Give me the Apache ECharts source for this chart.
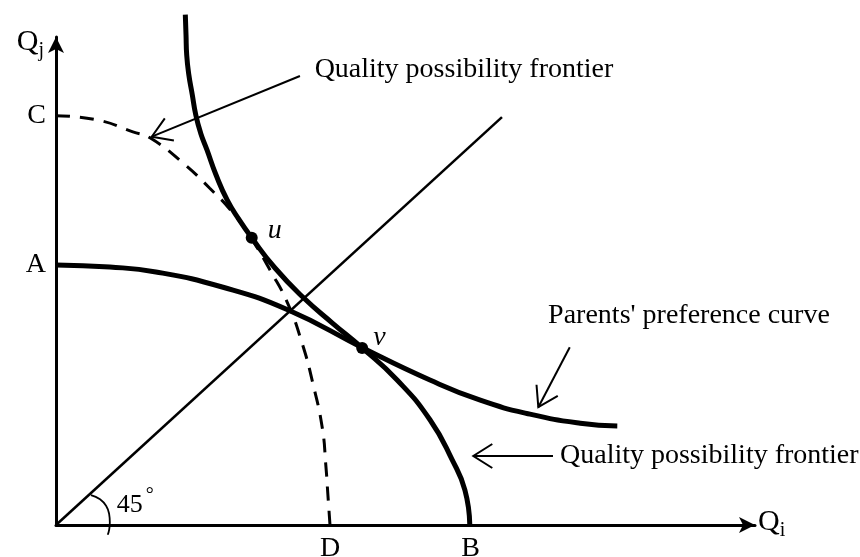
<!DOCTYPE html>
<html>
<head>
<meta charset="utf-8">
<script src="https://cdn.jsdelivr.net/npm/echarts@6/dist/echarts.min.js"></script>
<style>
  html, body { margin: 0; background: #fff; }
  #chart { width: 860px; height: 557px; }
</style>
</head>
<body>
<div id="chart"></div>
<script>
// == Data (axis units: Qi 0..10, Qj 0..7) ====================================

const xTickValues = [3.92, 5.93]
const xTickLabels = ['D', 'B']
const yTickValues = [5.87, 3.73]
const yTickLabels = ['C', 'A']

const line45 = [[0, 0], [6.38, 5.85]]

// dashed frontier C -> D
const innerFrontier = [
  [0, 5.87], [0.59, 5.81], [1.10, 5.64], [1.35, 5.55], [1.82, 5.19],
  [2.20, 4.83], [2.52, 4.49], [2.80, 4.10], [3.06, 3.66], [3.31, 3.19],
  [3.52, 2.61], [3.68, 2.01], [3.81, 1.39], [3.86, 0.86], [3.89, 0.43],
  [3.92, 0]
]

// solid frontier through u and v down to B
const outerFrontier = [
  [1.85, 7.32], [1.86, 7.03], [1.87, 6.74], [1.90, 6.46], [1.95, 6.17],
  [2.00, 5.88], [2.07, 5.62], [2.16, 5.38], [2.29, 5.02], [2.45, 4.66],
  [2.62, 4.38], [2.80, 4.12], [3.13, 3.69], [3.53, 3.27], [3.95, 2.90],
  [4.38, 2.54], [4.88, 2.08], [5.35, 1.51], [5.67, 0.93], [5.85, 0.50],
  [5.92, 0]
]

// parents' preference curve from A
const preferenceCurve = [
  [0, 3.73], [0.77, 3.70], [1.43, 3.63], [2.39, 3.41], [3.33, 3.08],
  [4.39, 2.54], [5.35, 2.08], [6.07, 1.79], [6.78, 1.59], [7.50, 1.46],
  [8.03, 1.42]
]

const angleArc = [
  [0.50, 0.43], [0.63, 0.37], [0.72, 0.27], [0.76, 0.16], [0.77, 0.04],
  [0.76, -0.07], [0.74, -0.14]
]

const tangentPoints = [[2.80, 4.12, 'u'], [4.38, 2.54, 'v']]

const annotationText = ['Quality possibility frontier', "Parents' preference curve", 'Quality possibility frontier']
const annotationAnchors = [[3.70, 6.53], [7.04, 3.01], [7.21, 0.99]]
const arrowTails = [[3.49, 6.44], [7.35, 2.55], [7.11, 0.99]]
const arrowTips = [[1.37, 5.57], [6.90, 1.69], [5.97, 0.99]]

const angleLabel = [[0.87, 0.29]]

// == Chart ===================================================================

const FONT = '"Liberation Serif", "Times New Roman", serif'
const INK = '#000'

const curve = (name, data, width, extra) => Object.assign({
  name,
  type: 'line',
  data,
  smooth: 0.5,
  symbol: 'none',
  clip: false,
  silent: true,
  lineStyle: {color: INK, width}
}, extra)

// open arrowhead: shaft plus two wings, drawn in pixel space
const renderArrow = (params, api) => {
  const a = api.coord([api.value(0), api.value(1)])
  const b = api.coord([api.value(2), api.value(3)])
  const len = Math.hypot(a[0] - b[0], a[1] - b[1])
  const ux = (a[0] - b[0]) / len
  const uy = (a[1] - b[1]) / len
  const back = 19
  const half = 12
  const w1 = [b[0] + ux * back - uy * half, b[1] + uy * back + ux * half]
  const w2 = [b[0] + ux * back + uy * half, b[1] + uy * back - ux * half]
  return {
    type: 'group',
    children: [
      {type: 'line', shape: {x1: a[0], y1: a[1], x2: b[0], y2: b[1]}, style: {stroke: INK, lineWidth: 2}},
      {type: 'polyline', shape: {points: [w1, b, w2]}, style: {stroke: INK, fill: null, lineWidth: 2}}
    ]
  }
}

const subscriptRich = {
  q: {fontFamily: FONT, fontSize: 30, color: INK, lineHeight: 30, padding: [0, 0, 4, 0], verticalAlign: 'bottom'},
  s: {fontFamily: FONT, fontSize: 20, color: INK, lineHeight: 20, verticalAlign: 'bottom'}
}

const axisLineStyle = {
  onZero: false,
  lineStyle: {color: INK, width: 3},
  symbol: ['none', 'arrow'],
  symbolSize: [12, 16],
  symbolOffset: [0, 0]
}

const option = {
  animation: false,
  backgroundColor: '#fff',
  grid: {left: 56, right: 105, top: 37, bottom: 32, outerBoundsMode: 'none'},
  xAxis: {
    type: 'value',
    min: 0,
    max: 10,
    splitLine: {show: false},
    axisTick: {show: false},
    axisLine: axisLineStyle,
    axisLabel: {
      customValues: xTickValues,
      formatter: v => xTickLabels[xTickValues.indexOf(v)] || '',
      color: INK,
      fontFamily: FONT,
      fontSize: 28,
      margin: 10
    },
    name: '{q|Q}{s|i}',
    nameLocation: 'end',
    nameGap: 3,
    nameMoveOverlap: false,
    nameTextStyle: {padding: [2, 0, 0, 0], rich: subscriptRich}
  },
  yAxis: {
    type: 'value',
    min: 0,
    max: 7,
    splitLine: {show: false},
    axisTick: {show: false},
    axisLine: axisLineStyle,
    axisLabel: {
      customValues: yTickValues,
      formatter: v => yTickLabels[yTickValues.indexOf(v)] || '',
      color: INK,
      fontFamily: FONT,
      fontSize: 28,
      margin: 10
    },
    name: '{q|Q}{s|j}',
    nameLocation: 'end',
    nameGap: -9,
    nameMoveOverlap: false,
    nameTextStyle: {
      align: 'right',
      verticalAlign: 'middle',
      padding: [0, 12, 0, 0],
      rich: subscriptRich
    }
  },
  series: [
    curve('45 degree line', line45, 2.5, {smooth: false}),
    curve('Quality possibility frontier (inner)', innerFrontier, 3, {
      lineStyle: {color: INK, width: 3, type: [14, 10]}
    }),
    curve('Quality possibility frontier', outerFrontier, 5),
    curve("Parents' preference curve", preferenceCurve, 5),
    curve('angle', angleArc, 1.8),
    {
      name: 'tangent points',
      type: 'scatter',
      data: tangentPoints,
      symbolSize: 12,
      itemStyle: {color: INK, opacity: 1},
      silent: true,
      label: {
        show: true,
        formatter: p => p.data[2],
        position: 'right',
        distance: 10,
        fontFamily: FONT,
        fontStyle: 'italic',
        fontSize: 28,
        color: INK
      },
      labelLayout: p => (p.dataIndex === 0 ? {dy: -7} : {dx: -5, dy: -10})
    },
    {
      name: 'annotation arrows',
      type: 'custom',
      silent: true,
      clip: false,
      data: arrowTails.map((t, i) => [t[0], t[1], arrowTips[i][0], arrowTips[i][1]]),
      renderItem: renderArrow
    },
    {
      name: 'annotations',
      type: 'scatter',
      data: annotationAnchors.map((a, i) => [a[0], a[1], annotationText[i]]),
      symbolSize: 0,
      silent: true,
      clip: false,
      itemStyle: {color: INK, opacity: 1},
      label: {
        show: true,
        formatter: p => p.data[2],
        position: 'right',
        distance: 0,
        fontFamily: FONT,
        fontSize: 28,
        color: INK
      }
    },
    {
      name: 'angle label',
      type: 'scatter',
      data: angleLabel,
      symbolSize: 0,
      silent: true,
      itemStyle: {color: INK, opacity: 1},
      label: {
        show: true,
        position: 'right',
        distance: 0,
        formatter: '{n|45}{d|°}',
        rich: {
          n: {fontFamily: FONT, fontSize: 26, color: INK, lineHeight: 26, verticalAlign: 'bottom'},
          d: {fontFamily: FONT, fontSize: 20, color: INK, lineHeight: 20, padding: [0, 0, 12, 3], verticalAlign: 'bottom'}
        }
      }
    }
  ]
}

echarts.init(document.getElementById('chart')).setOption(option)
</script>
</body>
</html>
